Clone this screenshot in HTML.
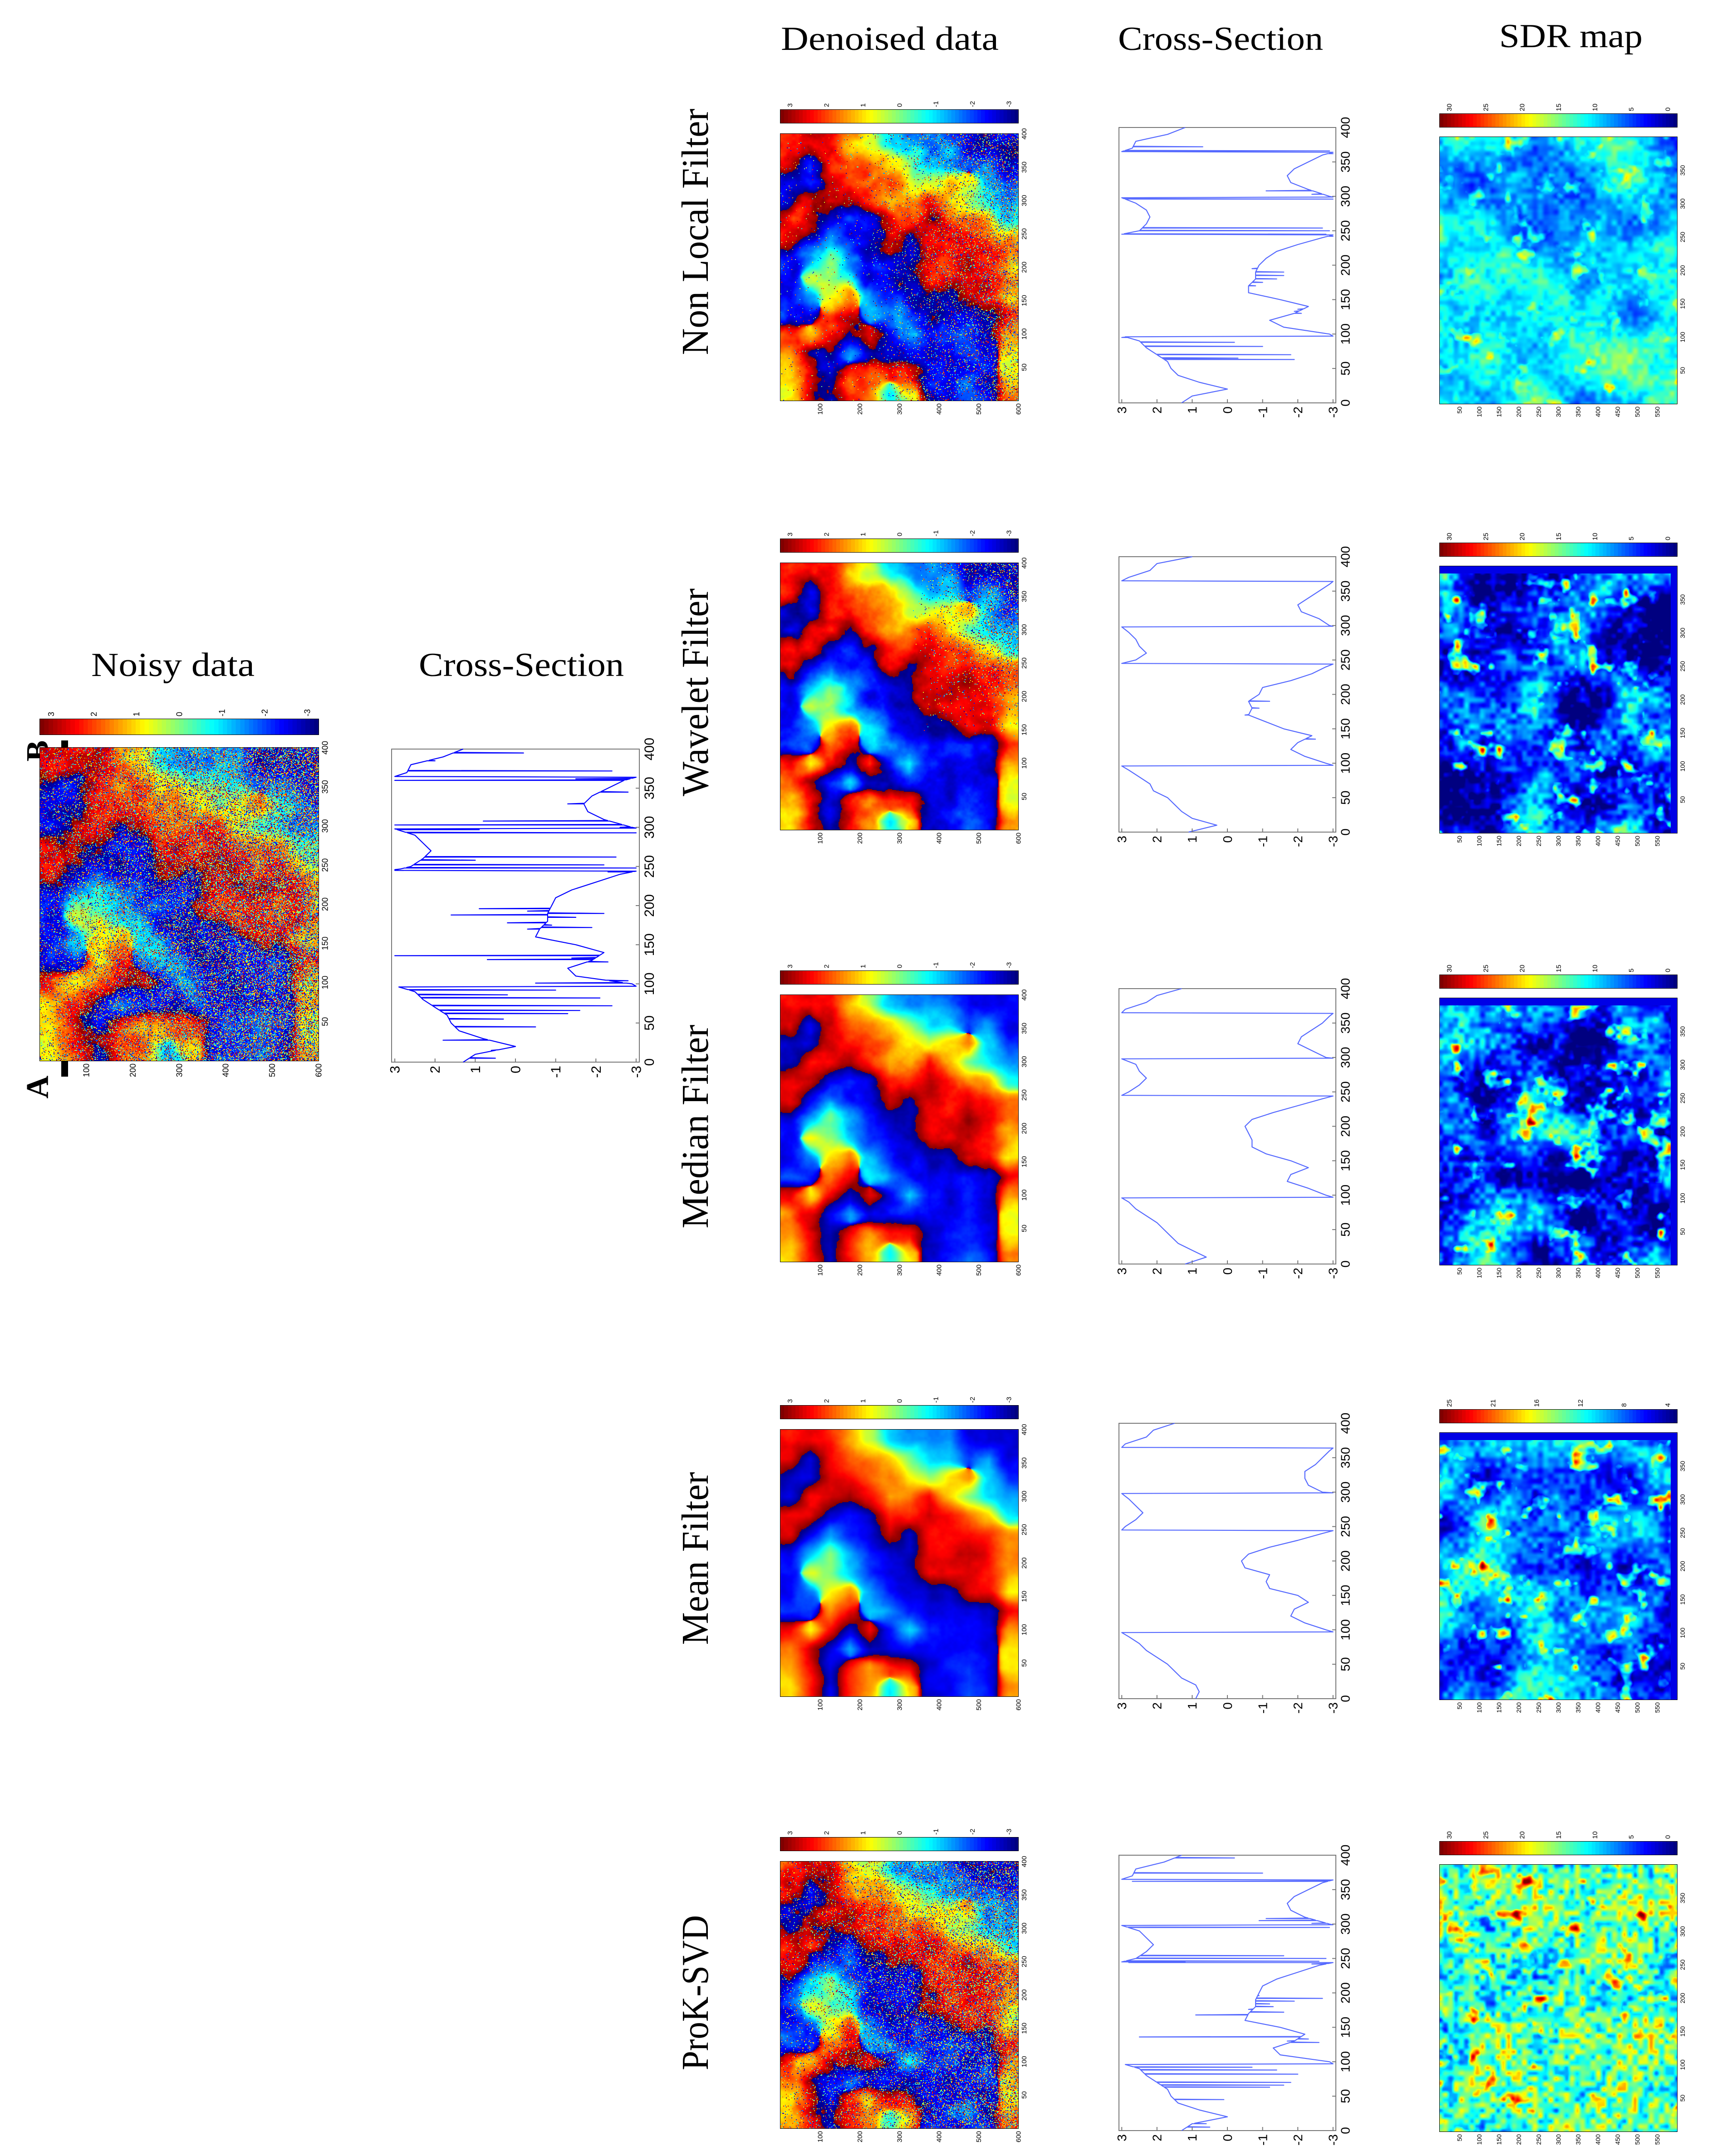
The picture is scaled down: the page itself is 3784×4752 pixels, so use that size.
<!DOCTYPE html>
<html><head><meta charset="utf-8">
<style>
html,body{margin:0;padding:0;background:#fff;}
#root{position:relative;width:3784px;height:4752px;background:#fff;overflow:hidden;}
#fig{position:absolute;left:0;top:0;}
canvas{position:absolute;image-rendering:pixelated;}
</style></head>
<body>
<div id="root">
<svg id="fig" width="3784" height="4752" viewBox="0 0 3784 4752" xmlns="http://www.w3.org/2000/svg" font-family="'Liberation Serif', serif">
  <text x="1961" y="110" font-size="74" text-anchor="middle" textLength="480" lengthAdjust="spacingAndGlyphs">Denoised data</text>
  <text x="2690" y="110" font-size="74" text-anchor="middle" textLength="452" lengthAdjust="spacingAndGlyphs">Cross-Section</text>
  <text x="3462" y="104" font-size="74" text-anchor="middle" textLength="316" lengthAdjust="spacingAndGlyphs">SDR map</text>
  <text x="381" y="1490" font-size="74" text-anchor="middle" textLength="360" lengthAdjust="spacingAndGlyphs">Noisy data</text>
  <text x="1149" y="1490" font-size="74" text-anchor="middle" textLength="452" lengthAdjust="spacingAndGlyphs">Cross-Section</text>
  <rect x="135" y="1632" width="15" height="741" fill="#000"/>
  <text x="106" y="2396" font-size="70" font-weight="bold" text-anchor="middle" transform="rotate(-90 106 2396)">A</text>
  <text x="106" y="1655" font-size="70" font-weight="bold" text-anchor="middle" transform="rotate(-90 106 1655)">B</text>
</svg>
</div>
<script>
// ---------- cross-section data ----------
const csPos = [0,10,20,30,40,50,60,70,80,90,96,97,100,110,120,130,140,150,160,170,180,190,200,210,220,230,240,244,245,250,260,270,280,290,298,299,300,310,320,330,340,350,360,364,365,370,380,390,400];
const csNoisy = [1.3,1.0,0.0,0.8,1.4,1.6,1.7,2.0,2.3,2.5,2.9,-3.0,-2.9,-1.5,-1.3,-1.9,-2.2,-1.5,-0.5,-0.6,-0.8,-0.8,-0.9,-1.0,-1.4,-2.0,-2.6,-3.0,3.0,2.6,2.3,2.1,2.3,2.5,3.0,-3.0,-2.9,-2.2,-1.8,-1.7,-1.9,-2.3,-2.7,-3.0,3.0,2.7,2.6,1.8,1.3];
const csNonLocal = [1.3,1.0,0.0,0.8,1.4,1.6,1.7,2.0,2.3,2.5,2.9,-3.0,-2.9,-1.6,-1.2,-1.9,-2.3,-1.5,-0.6,-0.6,-0.8,-0.8,-0.9,-1.1,-1.4,-2.0,-2.7,-3.0,3.0,2.5,2.3,2.2,2.3,2.6,3.0,-3.0,-2.9,-2.3,-1.8,-1.7,-1.9,-2.3,-2.7,-3.0,3.0,2.7,2.6,1.7,1.2];
const csWavelet = [1.1,0.3,1.0,1.3,1.5,1.7,2.1,2.2,2.5,2.8,3.0,-3.0,-2.8,-2.2,-1.8,-2.0,-2.4,-1.6,-1.1,-0.6,-0.7,-0.6,-0.9,-1.0,-1.8,-2.4,-2.8,-3.0,3.0,2.6,2.3,2.5,2.6,2.8,3.0,-3.0,-2.9,-2.6,-2.1,-2.0,-2.3,-2.6,-2.9,-3.0,3.0,2.8,2.2,2.0,1.0];
const csMedian = [1.2,0.6,1.0,1.4,1.6,1.8,2.0,2.3,2.6,2.8,3.0,-3.0,-2.8,-2.3,-1.7,-1.8,-2.3,-1.8,-1.1,-0.7,-0.7,-0.6,-0.5,-0.7,-1.3,-2.0,-2.7,-3.0,3.0,2.8,2.5,2.3,2.5,2.6,3.0,-3.0,-2.8,-2.4,-2.0,-2.1,-2.4,-2.7,-2.9,-3.0,3.0,2.9,2.3,2.0,1.3];
const csMean = [0.9,0.8,0.9,1.3,1.5,1.7,2.0,2.3,2.5,2.8,3.0,-3.0,-2.8,-2.2,-1.8,-1.9,-2.3,-2.0,-1.2,-1.1,-1.2,-0.5,-0.4,-0.6,-1.2,-2.0,-2.7,-3.0,3.0,2.9,2.6,2.4,2.6,2.8,3.0,-3.0,-2.7,-2.3,-2.2,-2.2,-2.5,-2.7,-2.9,-3.0,3.0,2.9,2.3,2.1,1.5];
const csProK = [1.3,1.0,0.0,0.8,1.4,1.6,1.7,2.0,2.3,2.5,2.9,-3.0,-2.9,-1.5,-1.3,-1.9,-2.2,-1.5,-0.5,-0.6,-0.8,-0.8,-0.9,-1.0,-1.4,-2.0,-2.6,-3.0,3.0,2.6,2.3,2.1,2.3,2.5,3.0,-3.0,-2.9,-2.2,-1.8,-1.7,-1.9,-2.3,-2.7,-3.0,3.0,2.7,2.6,1.8,1.3];
// spikes (position, value)
const spkNoisyPos = [5,15,28,45,55,62,66,72,82,86,92,101,104,128,131,133,136,170,172,175,178,182,185,188,190,193,196,243,246,248,252,258,262,293,297,300,303,308,330,345,360,362,372,385,395];
const spkNoisyVal = [0.5,0.6,1.8,-0.5,0.3,-1.3,-1.6,-2.4,-2.1,0.2,-1.0,-0.5,-2.8,-2.3,0.7,-1.4,3.0,-0.3,-1.9,-0.9,0.2,-0.8,-1.5,1.6,-2.2,-0.3,0.9,-2.3,3.0,-3.0,-2.2,1.0,-2.5,-3.0,0.9,-2.6,3.0,0.8,-1.3,-2.8,3.0,-1.5,-2.4,2.0,-0.2];
const spkNonLocalPos = [63,65,70,82,88,95,130,133,136,170,175,180,185,190,195,242,245,250,254,296,298,303,308,362,366,372];
const spkNonLocalVal = [-1.9,-0.3,-1.8,-1.0,-0.2,3.0,-2.1,-1.9,-2.0,-0.8,-1.0,-1.4,-1.6,-1.6,-0.7,-3.0,-2.8,-2.9,-2.7,-3.0,2.7,-2.4,-1.1,-3.0,-2.9,0.7];
const spkWaveletPos = [135,170,180,190];
const spkWaveletVal = [-2.5,-0.5,-0.9,-1.2];
const spkProKPos = [5,10,45,63,66,70,82,88,92,128,130,133,136,168,172,176,180,184,188,192,196,242,244,246,250,254,295,298,301,305,308,362,364,374,396];
const spkProKVal = [0.5,0.6,0.1,-1.2,-1.6,-1.8,-2.0,-1.4,-0.7,-2.6,-1.7,-2.3,2.5,0.9,-1.6,-0.6,-1.3,-1.2,-1.9,-2.7,-0.9,-2.4,2.8,-2.6,-2.8,-1.6,-2.9,2.7,-2.4,-0.9,-1.1,2.7,-2.9,-1.0,-0.2];
const csRightTicks = [0,50,100,150,200,250,300,350,400];
const csBottomTicks = [3,2,1,0,-1,-2,-3];

// ---------- phase pattern (coarse grid, rows top->bottom, cols left->right) ----------
const phaseGrid = [
 [2.3,2.5,2.3,1.2,0.5,-1.0,-1.5,-1.5,-1.5,-2.5,-2.7,-2.5],
 [2.5,-2.5,2.5,1.8,1.5,1.0,0.0,-1.0,-1.2,-2.0,-1.5,-2.5],
 [-2.8,-2.5,2.5,2.3,1.8,1.6,0.8,0.3,0.9,1.3,-1.0,-2.2],
 [-2.6,2.4,2.5,3.0,2.3,1.4,1.5,2.3,1.0,0.0,-1.0,-1.5],
 [2.4,2.6,-2.6,-2.3,-2.7,2.3,2.2,2.8,2.2,1.6,1.0,-0.8],
 [2.5,-2.4,-1.5,-2.3,-2.6,2.6,-2.7,2.5,2.3,2.4,2.2,1.5],
 [-2.5,-1.2,0.0,-1.3,-2.3,-2.7,-2.8,2.5,2.5,2.9,2.3,1.6],
 [-2.3,0.6,0.0,-1.0,-2.2,-2.6,-2.8,2.4,2.4,2.6,2.3,1.3],
 [-2.4,-1.5,0.9,1.5,-1.2,-2.2,-2.6,-2.7,-2.7,2.5,2.5,0.8],
 [-2.0,-2.2,1.5,2.5,-1.0,-1.5,-2.2,-2.6,-2.5,-2.5,-2.6,2.4],
 [2.3,1.0,2.3,-2.7,2.3,-2.4,-1.0,-2.3,-2.4,-2.3,-2.5,1.5],
 [1.6,2.8,-2.5,-1.2,-2.6,-2.5,-2.3,-2.5,-2.5,-2.2,-2.5,0.8],
 [1.4,2.3,-2.6,2.3,1.4,2.2,2.4,-2.6,-2.3,-2.0,-2.6,0.8],
 [1.0,2.3,-2.6,2.2,1.4,-0.8,1.0,-2.6,-2.4,-1.8,-2.4,1.5]
];
const phaseBarLabels = ["3","2","1","0","-1","-2","-3"];
const sdrBarLabels = ["30","25","20","15","10","5","0"];
const sdrBarLabelsMean = ["25","21","16","12","8","4"];
const mapRightTicks = [50,100,150,200,250,300,350,400];
const mapBottomTicks = [100,200,300,400,500,600];
const sdrRightTicks = [50,100,150,200,250,300,350];
const sdrBottomTicks = [50,100,150,200,250,300,350,400,450,500,550];

// ---------- helpers ----------
const NS = "http://www.w3.org/2000/svg";
const svg = document.getElementById('fig');
const root = document.getElementById('root');
function mk(tag, attrs, parent){
  const e = document.createElementNS(NS, tag);
  for (const k in attrs) e.setAttribute(k, attrs[k]);
  (parent || svg).appendChild(e);
  return e;
}
function clamp(x){ return x < 0 ? 0 : (x > 1 ? 1 : x); }
function jet(t){
  return [clamp(1.5-Math.abs(4*t-3))*255, clamp(1.5-Math.abs(4*t-2))*255, clamp(1.5-Math.abs(4*t-1))*255];
}
let seedState = 12345;
function rnd(){ seedState = (seedState*1664525 + 1013904223) >>> 0; return seedState/4294967296; }
function hash(ix, iy, s){
  let h = (ix*374761393 + iy*668265263 + s*982451653) | 0;
  h = (h ^ (h >>> 13)) * 1274126177 | 0;
  h = h ^ (h >>> 16);
  return (h >>> 0)/4294967296;
}
function vnoise(x, y, s){
  const ix = Math.floor(x), iy = Math.floor(y);
  let fx = x-ix, fy = y-iy;
  fx = fx*fx*(3-2*fx); fy = fy*fy*(3-2*fy);
  const a = hash(ix,iy,s), b = hash(ix+1,iy,s), c = hash(ix,iy+1,s), d = hash(ix+1,iy+1,s);
  return a + (b-a)*fx + (c-a)*fy + (a-b-c+d)*fx*fy;
}
function fbm(x, y, s, oct){
  let sum = 0, amp = 0.5, f = 1, norm = 0;
  for (let i = 0; i < oct; i++){ sum += amp*vnoise(x*f, y*f, s+i*17); norm += amp; amp *= 0.5; f *= 2; }
  return sum/norm;
}
function basePhase(u, v){
  const rows = phaseGrid.length, cols = phaseGrid[0].length;
  let gx = u*cols-0.5, gy = v*rows-0.5;
  gx = Math.max(0, Math.min(cols-1.0001, gx)); gy = Math.max(0, Math.min(rows-1.0001, gy));
  const i0 = Math.floor(gx), j0 = Math.floor(gy);
  const fx = gx-i0, fy = gy-j0;
  const w = [[(1-fx)*(1-fy), j0, i0], [fx*(1-fy), j0, i0+1], [(1-fx)*fy, j0+1, i0], [fx*fy, j0+1, i0+1]];
  let cs = 0, sn = 0;
  for (const q of w){ const p = phaseGrid[q[1]][q[2]]; cs += q[0]*Math.cos(p); sn += q[0]*Math.sin(p); }
  return Math.atan2(sn, cs);
}
function makeCanvas(x, y, w, h, cw, ch){
  const c = document.createElement('canvas');
  c.width = cw; c.height = ch;
  c.style.left = x+'px'; c.style.top = y+'px'; c.style.width = w+'px'; c.style.height = h+'px';
  root.appendChild(c);
  return c;
}
function drawPhaseMap(c, detail, speckle, seed){
  const ctx = c.getContext('2d');
  const W = c.width, H = c.height;
  const img = ctx.createImageData(W, H);
  seedState = seed;
  for (let y = 0; y < H; y++){
    for (let x = 0; x < W; x++){
      const u = x/W, v = y/H;
      let p = basePhase(u, v) + detail*(fbm(u*14, v*16, seed, 4)-0.5)*3;
      if (rnd() < speckle(u, v)) p = -Math.PI + rnd()*2*Math.PI;
      p = ((p + Math.PI) % (2*Math.PI) + 2*Math.PI) % (2*Math.PI);
      const col = jet(p/(2*Math.PI));
      const k = (y*W+x)*4;
      img.data[k] = col[0]; img.data[k+1] = col[1]; img.data[k+2] = col[2]; img.data[k+3] = 255;
    }
  }
  ctx.putImageData(img, 0, 0);
}
function drawSdrMap(c, a, b, cc, spot, seed, pad){
  const ctx = c.getContext('2d');
  const W = c.width, H = c.height;
  const img = ctx.createImageData(W, H);
  for (let y = 0; y < H; y++){
    for (let x = 0; x < W; x++){
      const u = x/W, v = y/H;
      let t;
      if (pad && (v < 0.025 || u > 0.97)) t = 0.1;
      else {
        const f1 = fbm(u*5, v*6, seed, 3);
        const f2 = vnoise(u*45, v*50, seed+99);
        const f3 = fbm(u*14, v*16, seed+55, 3);
        t = a + b*(f1-0.5) + cc*(f2-0.5) + spot*Math.max(0, f3-0.64);
      }
      const col = jet(clamp(t));
      const k = (y*W+x)*4;
      img.data[k] = col[0]; img.data[k+1] = col[1]; img.data[k+2] = col[2]; img.data[k+3] = 255;
    }
  }
  ctx.putImageData(img, 0, 0);
}
function drawBar(c){
  const ctx = c.getContext('2d');
  const W = c.width;
  for (let x = 0; x < W; x++){
    const col = jet(1 - Math.floor(x/W*64)/63);
    ctx.fillStyle = 'rgb('+col.map(Math.round).join(',')+')';
    ctx.fillRect(x, 0, 1, c.height);
  }
}
function rotText(x, y, s, size, anchor, name){
  const t = mk('text', {x: x, y: y, 'font-size': size, 'text-anchor': anchor, 'font-family': "'Liberation Sans', sans-serif", transform: 'rotate(-90 '+x+' '+y+')'});
  t.textContent = s;
  
  
  return t;
}
function heatFrame(x, y, w, h, rightTicks, rMax, bottomTicks, bMax, fs, name){
  const r = mk('rect', {x: x, y: y, width: w, height: h, fill: 'none', stroke: '#000', 'stroke-width': 2});
  
  
  rightTicks.forEach(function(v){
    const ty = y + h - v/rMax*h;
    rotText(x+w+6+fs*0.8, ty, String(v), fs, 'middle', name+'-y-tick-label');
  });
  bottomTicks.forEach(function(v){
    const tx = x + v/bMax*w;
    rotText(tx+fs*0.35, y+h+6, String(v), fs, 'end', name+'-x-tick-label');
  });
}
function colorbar(x, y, w, h, labels, fs, name){
  const c = makeCanvas(x, y, w, h, 128, 4);
  
  
  drawBar(c);
  const r = mk('rect', {x: x, y: y, width: w, height: h, fill: 'none', stroke: '#000', 'stroke-width': 2});
  
  
  const n = labels.length;
  labels.forEach(function(s, i){
    const tx = x + w*(0.04 + 0.92*i/(n-1));
    rotText(tx+fs*0.35, y-6, s, fs, 'start', name+'-label');
  });
}
function crossSection(x0, y0, x1, y1, pos, vals, spPos, spVal, color, fs, name){
  const g = mk('g', {});
  
  
  const fr = mk('rect', {x: x0, y: y0, width: x1-x0, height: y1-y0, fill: 'none', stroke: '#777', 'stroke-width': 2}, g);
  
  
  const X = function(v){ return x0 + (3.08 - v)/6.16*(x1-x0); };
  const Y = function(p){ return y1 - p/400*(y1-y0); };
  function baseAt(p){
    for (let i = 0; i < pos.length-1; i++){
      if (p >= pos[i] && p <= pos[i+1]){ const f = (p-pos[i])/(pos[i+1]-pos[i]); return vals[i] + f*(vals[i+1]-vals[i]); }
    }
    return vals[vals.length-1];
  }
  let pts = pos.map(function(p, i){ return [p, vals[i]]; });
  spPos.forEach(function(p, i){
    pts.push([p-0.01, baseAt(p)]); pts.push([p, spVal[i]]); pts.push([p+0.7, baseAt(p+0.7)]);
  });
  pts.sort(function(a, b){ return a[0]-b[0]; });
  const d = pts.map(function(q, i){ return (i ? 'L' : 'M') + X(q[1]).toFixed(1) + ' ' + Y(q[0]).toFixed(1); }).join(' ');
  const path = mk('path', {d: d, fill: 'none', stroke: color, 'stroke-width': 2.2, 'stroke-linejoin': 'round'}, g);
  
  
  csRightTicks.forEach(function(p){
    const tk = mk('line', {x1: x1-8, y1: Y(p), x2: x1, y2: Y(p), stroke: '#777', 'stroke-width': 2}, g);
    
    
    rotText(x1+8+fs*0.8, Y(p), String(p), fs, 'middle', name+'-y-tick-label');
  });
  csBottomTicks.forEach(function(v){
    const tk = mk('line', {x1: X(v), y1: y1-8, x2: X(v), y2: y1, stroke: '#777', 'stroke-width': 2}, g);
    
    
    rotText(X(v)+fs*0.35, y1+8, String(v), fs, 'end', name+'-x-tick-label');
  });
}

// ---------- noisy data column ----------
(function(){
  colorbar(88, 1585, 614, 34, phaseBarLabels, 18, 'noisy-colorbar');
  const c = makeCanvas(88, 1648, 614, 690, 307, 345);
  
  
  drawPhaseMap(c, 0.8, function(u, v){ return 0.18 + 0.42*u; }, 777);
  heatFrame(88, 1648, 614, 690, mapRightTicks, 400, mapBottomTicks, 600, 18, 'noisy-map');
  crossSection(863, 1651, 1409, 2341, csPos, csNoisy, spkNoisyPos, spkNoisyVal, '#0000ff', 30, 'noisy-cross-section');
})();

// ---------- method rows ----------
const rowNames = ['Non Local Filter','Wavelet Filter','Median Filter','Mean Filter','ProK-SVD'];
const rowKeys = ['non-local','wavelet','median','mean','prok-svd'];
const rowTops = [295, 1241, 2193, 3151, 4103];
const rowLabelCenters = [511, 1526, 2483, 3435, 4392];
const rowLabelLens = [543, 458, 449, 381, 342];
const csSeries = [csNonLocal, csWavelet, csMedian, csMean, csProK];
const spkPosSets = [spkNonLocalPos, spkWaveletPos, [], [], spkProKPos];
const spkValSets = [spkNonLocalVal, spkWaveletVal, [], [], spkProKVal];
const detailLevels = [0.6, 0.45, 0.3, 0.2, 0.75];
const speckleFns = [
  function(u, v){ return 0.02 + 0.4*Math.max(0, u-0.35); },
  function(u, v){ return 0.3*clamp((u-0.55)*2.5)*clamp((0.65-v)*2.5); },
  function(u, v){ return 0; },
  function(u, v){ return 0; },
  function(u, v){ return 0.08 + 0.34*u; }
];
// [base, large-scale amp, fine amp, spot strength]
const sdrParams = [[0.33,0.45,0.15,1.4],[0.17,0.8,0.25,2.6],[0.17,0.8,0.25,2.6],[0.26,0.6,0.2,2.4],[0.46,0.45,0.4,1.6]];

rowNames.forEach(function(nm, r){
  const top = rowTops[r], key = rowKeys[r];
  const lc = rowLabelCenters[r];
  const lab = mk('text', {x: 1560, y: lc, 'font-size': 84, 'text-anchor': 'middle', textLength: rowLabelLens[r], lengthAdjust: 'spacingAndGlyphs', transform: 'rotate(-90 1560 '+lc+')'});
  lab.textContent = nm;
  
  

  colorbar(1720, top-53, 524, 29, phaseBarLabels, 15, key+'-phase-colorbar');
  const c = makeCanvas(1720, top, 524, 588, 262, 294);
  
  
  drawPhaseMap(c, detailLevels[r], speckleFns[r], 100+r*31);
  heatFrame(1720, top, 524, 588, mapRightTicks, 400, mapBottomTicks, 600, 15, key+'-denoised-map');

  crossSection(2466, top-14, 2944, top+593, csPos, csSeries[r], spkPosSets[r], spkValSets[r], '#5468ff', 28, key+'-cross-section');

  colorbar(3173, top-44, 523, 29, r === 3 ? sdrBarLabelsMean : sdrBarLabels, 15, key+'-sdr-colorbar');
  const s = makeCanvas(3173, top+7, 523, 588, 262, 294);
  
  
  const sp = sdrParams[r];
  drawSdrMap(s, sp[0], sp[1], sp[2], sp[3], 500+r*13, r >= 1 && r <= 3);
  heatFrame(3173, top+7, 523, 588, sdrRightTicks, 400, sdrBottomTicks, 600, 14, key+'-sdr-map');
});
</script>
</body></html>
